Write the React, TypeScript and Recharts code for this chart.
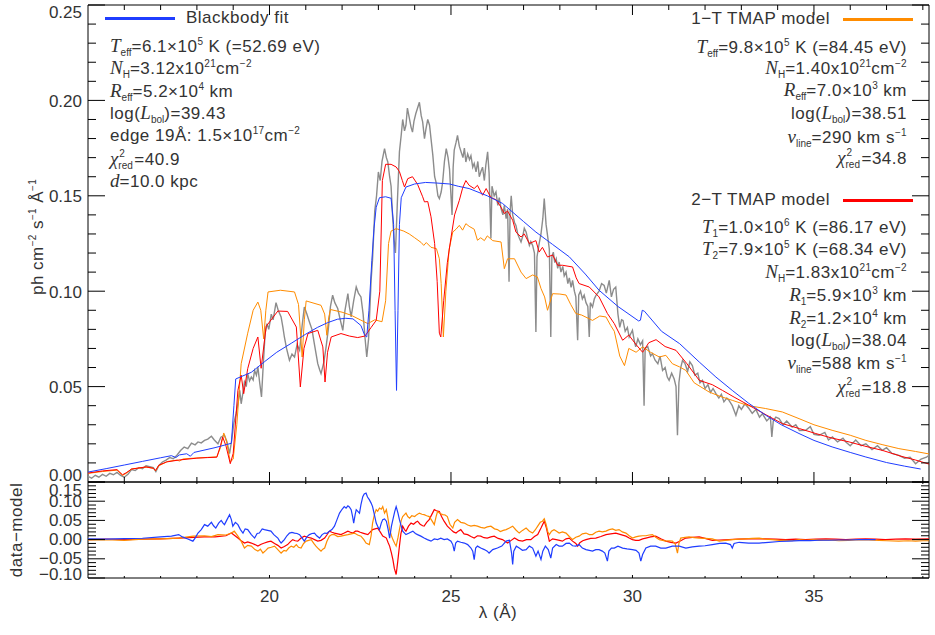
import React from 'react';
import { LineChart, Line, XAxis, YAxis, ReferenceArea } from 'recharts';

type Pt = [number, number];

// observed spectrum, ph cm^-2 s^-1 A^-1
const observed: Pt[] = [
  [15.0, 0.003], [15.1, 0.002], [15.2, 0.0035], [15.3, 0.0025], [15.4, 0.004], [15.5, 0.003], [15.6, 0.0045], [15.7, 0.0038],
  [15.8, 0.005], [15.9, 0.0035], [16.0, 0.0025], [16.1, 0.004], [16.2, 0.0065], [16.3, 0.006], [16.4, 0.0075], [16.5, 0.007],
  [16.6, 0.0085], [16.7, 0.008], [16.8, 0.0075], [16.87, 0.0055], [16.95, 0.0085], [17.05, 0.0105], [17.15, 0.0115], [17.25, 0.0128],
  [17.35, 0.0122], [17.45, 0.014], [17.55, 0.0165], [17.65, 0.0183], [17.75, 0.0175], [17.85, 0.0204], [17.95, 0.0195], [18.03, 0.021],
  [18.12, 0.0205], [18.21, 0.0218], [18.3, 0.0225], [18.4, 0.024], [18.48, 0.022], [18.58, 0.02], [18.66, 0.0235], [18.76, 0.0245],
  [18.83, 0.021], [18.9, 0.0149], [18.96, 0.022], [19.02, 0.031], [19.08, 0.0358], [19.14, 0.042], [19.18, 0.048], [19.22, 0.041],
  [19.27, 0.047], [19.31, 0.0524], [19.36, 0.05], [19.4, 0.0568], [19.45, 0.053], [19.5, 0.055], [19.55, 0.0535], [19.59, 0.0585],
  [19.64, 0.056], [19.68, 0.0603], [19.73, 0.052], [19.78, 0.0446], [19.83, 0.062], [19.88, 0.078], [19.93, 0.083], [19.98, 0.08],
  [20.05, 0.088], [20.1, 0.085], [20.18, 0.094], [20.24, 0.09], [20.32, 0.0865], [20.37, 0.081], [20.41, 0.076], [20.47, 0.07],
  [20.55, 0.0638], [20.62, 0.067], [20.69, 0.0655], [20.76, 0.072], [20.83, 0.069], [20.9, 0.082], [20.96, 0.0917], [21.03, 0.088],
  [21.1, 0.0839], [21.17, 0.08], [21.24, 0.072], [21.33, 0.062], [21.38, 0.059], [21.42, 0.0568], [21.5, 0.063], [21.56, 0.0708],
  [21.62, 0.08], [21.68, 0.092], [21.74, 0.0979], [21.8, 0.094], [21.88, 0.0909], [21.95, 0.085], [22.02, 0.0795], [22.08, 0.09],
  [22.16, 0.0987], [22.2, 0.092], [22.25, 0.0865], [22.32, 0.095], [22.39, 0.1022], [22.45, 0.099], [22.52, 0.097], [22.58, 0.088],
  [22.63, 0.076], [22.68, 0.0655], [22.73, 0.075], [22.8, 0.1057], [22.84, 0.117], [22.9, 0.142], [22.95, 0.15], [23.0, 0.1625],
  [23.05, 0.158], [23.1, 0.168], [23.17, 0.1747], [23.22, 0.17], [23.26, 0.1677], [23.31, 0.16], [23.35, 0.155], [23.39, 0.14],
  [23.43, 0.1276], [23.47, 0.12], [23.52, 0.145], [23.58, 0.173], [23.63, 0.182], [23.67, 0.19], [23.72, 0.184], [23.76, 0.187],
  [23.8, 0.196], [23.85, 0.191], [23.9, 0.186], [23.94, 0.1834], [23.98, 0.189], [24.03, 0.193], [24.08, 0.196], [24.13, 0.199],
  [24.18, 0.192], [24.22, 0.1887], [24.27, 0.18], [24.31, 0.185], [24.36, 0.19], [24.41, 0.187], [24.45, 0.18], [24.5, 0.1713],
  [24.55, 0.16], [24.59, 0.157], [24.64, 0.15], [24.68, 0.1485], [24.73, 0.152], [24.77, 0.157], [24.82, 0.168], [24.87, 0.1747],
  [24.92, 0.17], [24.96, 0.164], [25.0, 0.15], [25.03, 0.14], [25.06, 0.165], [25.09, 0.174], [25.14, 0.178], [25.18, 0.1817],
  [25.23, 0.176], [25.28, 0.173], [25.33, 0.17], [25.37, 0.175], [25.41, 0.1677], [25.46, 0.172], [25.51, 0.169], [25.55, 0.171],
  [25.6, 0.165], [25.64, 0.167], [25.69, 0.1625], [25.74, 0.168], [25.78, 0.16], [25.83, 0.163], [25.87, 0.165], [25.92, 0.158],
  [25.96, 0.166], [26.01, 0.173], [26.05, 0.162], [26.1, 0.1276], [26.13, 0.155], [26.19, 0.15], [26.24, 0.152], [26.29, 0.145],
  [26.33, 0.149], [26.38, 0.1433], [26.43, 0.14], [26.47, 0.145], [26.52, 0.138], [26.56, 0.143], [26.6, 0.105], [26.63, 0.142],
  [26.66, 0.15], [26.7, 0.14], [26.75, 0.136], [26.79, 0.1345], [26.84, 0.13], [26.88, 0.128], [26.93, 0.1258], [26.98, 0.129],
  [27.02, 0.133], [27.07, 0.131], [27.12, 0.127], [27.16, 0.124], [27.2, 0.126], [27.25, 0.124], [27.3, 0.12], [27.34, 0.0786],
  [27.37, 0.118], [27.43, 0.125], [27.48, 0.13], [27.53, 0.138], [27.57, 0.1485], [27.62, 0.135], [27.66, 0.1293], [27.71, 0.122],
  [27.75, 0.076], [27.78, 0.118], [27.82, 0.1205], [27.86, 0.115], [27.9, 0.117], [27.94, 0.112], [27.98, 0.1153], [28.03, 0.11],
  [28.08, 0.113], [28.12, 0.108], [28.17, 0.11], [28.22, 0.104], [28.26, 0.107], [28.31, 0.102], [28.35, 0.1057], [28.4, 0.1],
  [28.44, 0.097], [28.49, 0.0743], [28.52, 0.098], [28.57, 0.1], [28.62, 0.096], [28.67, 0.098], [28.72, 0.094], [28.77, 0.092],
  [28.81, 0.076], [28.84, 0.094], [28.9, 0.0917], [28.95, 0.096], [29.0, 0.098], [29.08, 0.1], [29.15, 0.104], [29.22, 0.103],
  [29.28, 0.099], [29.36, 0.1057], [29.42, 0.097], [29.48, 0.101], [29.54, 0.1022], [29.6, 0.088], [29.65, 0.081], [29.7, 0.085],
  [29.74, 0.0847], [29.8, 0.079], [29.86, 0.081], [29.91, 0.076], [30.0, 0.0795], [30.05, 0.074], [30.09, 0.0708], [30.15, 0.075],
  [30.22, 0.072], [30.28, 0.074], [30.32, 0.04], [30.35, 0.07], [30.42, 0.071], [30.5, 0.066], [30.55, 0.0673], [30.62, 0.064],
  [30.7, 0.062], [30.76, 0.066], [30.83, 0.0585], [30.9, 0.06], [30.96, 0.055], [31.01, 0.0533], [31.08, 0.057], [31.15, 0.054],
  [31.2, 0.05], [31.24, 0.0245], [31.28, 0.052], [31.33, 0.06], [31.38, 0.0638], [31.45, 0.062], [31.52, 0.058], [31.58, 0.063],
  [31.65, 0.061], [31.72, 0.056], [31.8, 0.057], [31.86, 0.052], [31.93, 0.0533], [32.0, 0.049], [32.08, 0.051], [32.15, 0.047],
  [32.22, 0.049], [32.3, 0.0463], [32.38, 0.044], [32.45, 0.046], [32.52, 0.042], [32.6, 0.044], [32.66, 0.0428], [32.75, 0.04],
  [32.85, 0.035], [32.93, 0.04], [33.0, 0.038], [33.1, 0.041], [33.21, 0.0385], [33.3, 0.036], [33.4, 0.038], [33.5, 0.034],
  [33.58, 0.0358], [33.7, 0.032], [33.8, 0.034], [33.84, 0.0236], [33.88, 0.032], [33.95, 0.034], [34.04, 0.0332], [34.15, 0.03],
  [34.25, 0.032], [34.4, 0.0288], [34.5, 0.03], [34.6, 0.027], [34.77, 0.0271], [34.9, 0.029], [35.0, 0.025], [35.14, 0.0245],
  [35.3, 0.026], [35.4, 0.022], [35.51, 0.0236], [35.65, 0.021], [35.8, 0.023], [35.88, 0.021], [36.0, 0.019], [36.15, 0.022],
  [36.3, 0.019], [36.43, 0.02], [36.6, 0.017], [36.75, 0.019], [36.88, 0.0166], [37.0, 0.018], [37.15, 0.015], [37.34, 0.014],
  [37.5, 0.0125], [37.65, 0.013], [37.8, 0.0096], [37.95, 0.012], [38.1, 0.013], [38.17, 0.014],
];

const blackbody: Pt[] = [
  [15.0, 0.0052], [15.5, 0.007], [16.0, 0.0089], [16.5, 0.0108], [17.0, 0.0127], [17.3, 0.0138], [17.42, 0.0128], [17.52, 0.0142],
  [17.72, 0.0148], [17.82, 0.0135], [17.92, 0.0155], [18.5, 0.018], [18.95, 0.0203], [19.02, 0.04], [19.07, 0.054], [19.5, 0.0575],
  [19.86, 0.063], [20.2, 0.068], [20.6, 0.0727], [21.0, 0.0775], [21.32, 0.081], [21.6, 0.0835], [21.87, 0.0853], [22.1, 0.0858],
  [22.3, 0.0855], [22.52, 0.082], [22.62, 0.077], [22.68, 0.076], [22.74, 0.09], [22.82, 0.116], [22.88, 0.133], [22.94, 0.144],
  [23.03, 0.149], [23.2, 0.1495], [23.35, 0.1487], [23.42, 0.135], [23.46, 0.09], [23.5, 0.048], [23.54, 0.09], [23.58, 0.135],
  [23.63, 0.149], [23.76, 0.1546], [24.0, 0.1562], [24.3, 0.157], [24.6, 0.1567], [24.96, 0.1562], [25.2, 0.155], [25.5, 0.1538],
  [26.0, 0.15], [26.42, 0.146], [27.0, 0.1365], [27.34, 0.131], [27.8, 0.1245], [28.26, 0.118], [28.7, 0.109], [29.08, 0.1005],
  [29.6, 0.092], [30.17, 0.0844], [30.22, 0.0848], [30.27, 0.09], [30.33, 0.0895], [30.8, 0.079], [31.3, 0.0725], [31.84, 0.0629],
  [32.3, 0.055], [32.75, 0.048], [33.2, 0.0413], [33.67, 0.035], [34.1, 0.03], [34.59, 0.0254], [35.0, 0.0218], [35.5, 0.0184],
  [36.0, 0.0155], [36.43, 0.0131], [37.0, 0.0102], [37.5, 0.0083], [37.94, 0.0068],
];

const tmap1T: Pt[] = [
  [15.0, 0.0045], [15.4, 0.0055], [15.8, 0.0062], [15.95, 0.0035], [16.05, 0.0045], [16.2, 0.0068], [16.6, 0.0078], [16.8, 0.0072],
  [16.86, 0.0058], [16.95, 0.0085], [17.2, 0.0108], [17.45, 0.0115], [17.52, 0.011], [17.62, 0.0121], [18.0, 0.0126], [18.3, 0.0129],
  [18.55, 0.0132], [18.65, 0.018], [18.74, 0.0257], [18.82, 0.021], [18.92, 0.0105], [19.0, 0.012], [19.1, 0.03], [19.22, 0.062],
  [19.4, 0.078], [19.55, 0.09], [19.68, 0.0943], [19.76, 0.09], [19.84, 0.075], [19.9, 0.09], [19.96, 0.0996], [20.3, 0.1005],
  [20.69, 0.0996], [20.8, 0.093], [20.9, 0.0655], [20.96, 0.085], [21.01, 0.0949], [21.42, 0.0926], [21.52, 0.088], [21.58, 0.0769],
  [21.63, 0.086], [21.68, 0.0904], [22.0, 0.089], [22.25, 0.0874], [22.5, 0.085], [22.71, 0.083], [22.9, 0.085], [23.1, 0.084],
  [23.2, 0.095], [23.28, 0.125], [23.35, 0.1315], [23.49, 0.1328], [23.7, 0.1315], [23.85, 0.13], [24.0, 0.128], [24.18, 0.1255],
  [24.25, 0.124], [24.32, 0.1255], [24.45, 0.123], [24.6, 0.1223], [24.68, 0.117], [24.73, 0.104], [24.79, 0.076], [24.86, 0.1],
  [24.95, 0.122], [25.05, 0.131], [25.14, 0.1325], [25.23, 0.1345], [25.32, 0.132], [25.41, 0.1354], [25.5, 0.134], [25.64, 0.1325],
  [25.73, 0.1267], [25.82, 0.128], [25.92, 0.1265], [26.0, 0.129], [26.15, 0.1265], [26.38, 0.1258], [26.47, 0.1118], [26.56, 0.117],
  [26.75, 0.117], [26.93, 0.11], [27.07, 0.1066], [27.25, 0.1085], [27.38, 0.1075], [27.48, 0.1014], [27.58, 0.097], [27.66, 0.09],
  [27.8, 0.0987], [28.0, 0.0985], [28.17, 0.098], [28.3, 0.093], [28.44, 0.0883], [28.6, 0.0875], [28.9, 0.0847], [29.1, 0.087],
  [29.27, 0.0865], [29.4, 0.082], [29.5, 0.079], [29.65, 0.066], [29.78, 0.061], [29.9, 0.07], [30.1, 0.068], [30.28, 0.0708],
  [30.5, 0.068], [30.74, 0.0655], [30.92, 0.0664], [31.1, 0.062], [31.3, 0.0603], [31.47, 0.0585], [31.7, 0.052], [32.11, 0.0472],
  [32.4, 0.045], [32.75, 0.0428], [33.2, 0.04], [33.67, 0.0385], [34.13, 0.0367], [34.59, 0.0332], [35.0, 0.03], [35.5, 0.0271],
  [36.0, 0.0245], [36.43, 0.0218], [36.9, 0.0195], [37.34, 0.0175], [37.8, 0.016], [38.17, 0.0147],
];

const tmap2T: Pt[] = [
  [15.0, 0.0047], [15.4, 0.0058], [15.8, 0.0065], [15.95, 0.0038], [16.05, 0.0048], [16.2, 0.0068], [16.6, 0.0079], [16.8, 0.0072],
  [16.86, 0.006], [16.95, 0.0088], [17.16, 0.0105], [17.5, 0.0115], [18.0, 0.0125], [18.3, 0.0128], [18.55, 0.013], [18.65, 0.019],
  [18.71, 0.0236], [18.8, 0.019], [18.92, 0.0096], [19.0, 0.015], [19.13, 0.048], [19.22, 0.056], [19.29, 0.0463], [19.4, 0.0594],
  [19.55, 0.07], [19.68, 0.076], [19.77, 0.0596], [19.91, 0.0816], [20.23, 0.0896], [20.5, 0.0894], [20.74, 0.0812], [20.85, 0.0498],
  [20.95, 0.07], [21.06, 0.0778], [21.33, 0.0795], [21.47, 0.0708], [21.53, 0.0524], [21.6, 0.068], [21.7, 0.076], [21.97, 0.0778],
  [22.2, 0.0765], [22.43, 0.0757], [22.63, 0.0765], [22.8, 0.081], [22.94, 0.0847], [23.04, 0.1], [23.11, 0.158], [23.2, 0.1665],
  [23.35, 0.1665], [23.49, 0.1651], [23.58, 0.1627], [23.66, 0.158], [23.72, 0.1546], [23.81, 0.159], [23.94, 0.16], [24.08, 0.156],
  [24.22, 0.1495], [24.27, 0.1468], [24.36, 0.147], [24.45, 0.139], [24.55, 0.125], [24.62, 0.105], [24.68, 0.078], [24.72, 0.076],
  [24.8, 0.095], [24.9, 0.115], [25.0, 0.128], [25.1, 0.14], [25.23, 0.1476], [25.32, 0.154], [25.41, 0.158], [25.5, 0.1555],
  [25.64, 0.1538], [25.73, 0.1555], [25.87, 0.1503], [25.97, 0.1538], [26.1, 0.149], [26.24, 0.148], [26.38, 0.144], [26.47, 0.1407],
  [26.56, 0.142], [26.7, 0.1372], [26.79, 0.131], [26.93, 0.1284], [27.02, 0.13], [27.16, 0.125], [27.34, 0.1265], [27.43, 0.1205],
  [27.52, 0.123], [27.66, 0.1179], [27.8, 0.119], [27.94, 0.1136], [28.07, 0.1136], [28.35, 0.1127], [28.45, 0.107], [28.53, 0.104],
  [28.81, 0.1022], [29.08, 0.097], [29.31, 0.0883], [29.5, 0.083], [29.73, 0.0743], [29.9, 0.077], [30.1, 0.072], [30.28, 0.068],
  [30.45, 0.073], [30.65, 0.0746], [30.9, 0.071], [31.2, 0.069], [31.5, 0.062], [31.84, 0.0533], [32.2, 0.051], [32.48, 0.048],
  [32.8, 0.0445], [33.21, 0.0402], [33.7, 0.035], [34.13, 0.0306], [34.6, 0.028], [35.05, 0.0254], [35.5, 0.023], [35.97, 0.021],
  [36.4, 0.0188], [36.88, 0.0166], [37.4, 0.0135], [37.8, 0.0115], [38.17, 0.0094],
];

// data - model
const residBlackbody: Pt[] = [
  [15.0, 0.0017], [15.5, 0.001], [16.0, 0.0026], [16.5, 0.0035], [17.0, 0.007], [17.3, 0.009], [17.5, 0.013], [17.6, 0.007],
  [17.75, 0.0017], [17.89, -0.004], [17.95, 0.004], [18.03, 0.017], [18.12, 0.026], [18.21, 0.039], [18.3, 0.035], [18.4, 0.045],
  [18.46, 0.036], [18.52, 0.03], [18.6, 0.043], [18.67, 0.05], [18.72, 0.043], [18.76, 0.039], [18.83, 0.052], [18.9, 0.065],
  [18.95, 0.052], [18.99, 0.035], [19.06, 0.045], [19.13, 0.039], [19.2, 0.026], [19.27, 0.017], [19.33, 0.028], [19.4, 0.026],
  [19.5, 0.013], [19.59, 0.004], [19.66, 0.016], [19.72, 0.017], [19.8, 0.028], [19.86, 0.026], [19.95, 0.024], [20.04, 0.022],
  [20.12, 0.013], [20.23, 0.004], [20.28, -0.004], [20.32, -0.009], [20.38, -0.003], [20.41, 0.0], [20.48, 0.01], [20.55, 0.017],
  [20.62, 0.019], [20.69, 0.017], [20.76, 0.016], [20.83, 0.013], [20.9, 0.004], [20.96, -0.004], [21.03, 0.007], [21.1, 0.013],
  [21.17, 0.016], [21.24, 0.017], [21.3, 0.01], [21.38, 0.004], [21.45, 0.013], [21.52, 0.017], [21.58, 0.016], [21.65, 0.022],
  [21.72, 0.026], [21.79, 0.035], [21.86, 0.052], [21.93, 0.069], [22.0, 0.079], [22.06, 0.086], [22.11, 0.082], [22.16, 0.088],
  [22.2, 0.085], [22.25, 0.078], [22.29, 0.06], [22.32, 0.043], [22.36, 0.065], [22.39, 0.078], [22.44, 0.073], [22.48, 0.069],
  [22.52, 0.091], [22.57, 0.112], [22.61, 0.119], [22.66, 0.121], [22.7, 0.111], [22.75, 0.104], [22.8, 0.095], [22.84, 0.086],
  [22.89, 0.065], [22.94, 0.043], [22.98, 0.035], [23.03, 0.026], [23.08, 0.043], [23.12, 0.052], [23.17, 0.054], [23.22, 0.048],
  [23.27, 0.026], [23.31, 0.004], [23.36, 0.035], [23.4, 0.052], [23.45, 0.073], [23.49, 0.086], [23.54, 0.069], [23.58, 0.052],
  [23.63, 0.035], [23.67, 0.022], [23.76, 0.013], [23.85, 0.017], [23.95, 0.022], [24.02, 0.016], [24.08, 0.013], [24.17, 0.009],
  [24.26, 0.004], [24.35, 0.0], [24.45, -0.004], [24.54, 0.0017], [24.63, 0.0], [24.72, 0.0035], [24.81, 0.0], [24.9, 0.0017],
  [25.0, -0.004], [25.05, -0.013], [25.09, -0.03], [25.13, -0.009], [25.18, -0.004], [25.27, -0.007], [25.37, -0.009], [25.46, -0.013],
  [25.55, -0.022], [25.6, -0.03], [25.64, -0.052], [25.68, -0.022], [25.73, -0.017], [25.82, -0.022], [25.92, -0.026], [26.0, -0.03],
  [26.05, -0.035], [26.15, -0.026], [26.28, -0.022], [26.4, -0.017], [26.52, -0.004], [26.61, -0.0017], [26.67, -0.035], [26.7, -0.065],
  [26.73, -0.03], [26.8, -0.017], [26.88, -0.022], [26.97, -0.028], [27.07, -0.026], [27.16, -0.017], [27.25, -0.022], [27.34, -0.043],
  [27.4, -0.03], [27.48, -0.052], [27.53, -0.03], [27.6, -0.017], [27.68, -0.026], [27.75, -0.048], [27.8, -0.022], [27.9, -0.013],
  [27.98, -0.017], [28.07, -0.017], [28.17, -0.01], [28.26, -0.009], [28.35, -0.016], [28.44, -0.017], [28.53, -0.013], [28.62, -0.022],
  [28.72, -0.026], [28.81, -0.028], [28.9, -0.03], [28.99, -0.026], [29.08, -0.026], [29.17, -0.03], [29.24, -0.035], [29.31, -0.056],
  [29.35, -0.03], [29.42, -0.022], [29.5, -0.022], [29.6, -0.017], [29.73, -0.022], [29.85, -0.024], [30.0, -0.026], [30.1, -0.028],
  [30.18, -0.035], [30.23, -0.056], [30.28, -0.039], [30.37, -0.022], [30.5, -0.017], [30.64, -0.017], [30.78, -0.022], [30.92, -0.022],
  [31.1, -0.017], [31.29, -0.017], [31.47, -0.022], [31.65, -0.019], [31.84, -0.017], [32.0, -0.016], [32.2, -0.013], [32.4, -0.01],
  [32.57, -0.009], [32.7, -0.013], [32.75, -0.022], [32.8, -0.01], [32.94, -0.007], [33.2, -0.009], [33.49, -0.009], [33.75, -0.007],
  [34.04, -0.005], [34.3, -0.004], [34.59, -0.0026], [34.9, -0.0026], [35.14, -0.0017], [35.4, -0.0017], [35.69, -0.001], [35.95, -0.001],
  [36.24, 0.0], [36.5, 0.0], [36.7, 0.0],
];

const resid1T: Pt[] = [
  [15.0, -0.001], [15.5, 0.0], [16.0, -0.002], [16.5, 0.001], [17.0, 0.002], [17.5, 0.004], [17.9, 0.009], [18.21, 0.01],
  [18.4, 0.008], [18.58, 0.013], [18.8, 0.012], [18.95, 0.017], [19.03, 0.022], [19.13, 0.009], [19.22, -0.004], [19.31, -0.022],
  [19.4, -0.015], [19.5, -0.017], [19.6, -0.026], [19.68, -0.03], [19.75, -0.025], [19.82, -0.035], [19.9, -0.028], [19.96, -0.022],
  [20.05, -0.02], [20.14, -0.017], [20.23, -0.026], [20.32, -0.035], [20.4, -0.028], [20.46, -0.03], [20.53, -0.022], [20.6, -0.017],
  [20.67, -0.02], [20.74, -0.013], [20.8, -0.02], [20.87, -0.022], [20.94, -0.01], [21.01, -0.004], [21.08, -0.002], [21.15, 0.0],
  [21.22, -0.01], [21.28, -0.017], [21.35, -0.024], [21.42, -0.03], [21.47, -0.025], [21.52, -0.022], [21.58, -0.005], [21.65, 0.009],
  [21.72, 0.013], [21.79, 0.013], [21.88, 0.008], [21.97, 0.009], [22.06, 0.011], [22.16, 0.013], [22.25, 0.015], [22.34, 0.017],
  [22.43, 0.012], [22.52, 0.009], [22.6, 0.0], [22.66, -0.009], [22.75, -0.013], [22.8, 0.01], [22.84, 0.043], [22.89, 0.065],
  [22.94, 0.078], [22.98, 0.074], [23.03, 0.082], [23.08, 0.079], [23.12, 0.086], [23.17, 0.069], [23.22, 0.078], [23.27, 0.052],
  [23.31, 0.026], [23.36, 0.01], [23.4, 0.0], [23.45, -0.01], [23.49, -0.017], [23.54, 0.005], [23.58, 0.026], [23.63, 0.05],
  [23.67, 0.06], [23.72, 0.065], [23.76, 0.069], [23.81, 0.06], [23.86, 0.056], [23.92, 0.062], [24.0, 0.06], [24.06, 0.065],
  [24.13, 0.069], [24.2, 0.066], [24.26, 0.065], [24.33, 0.062], [24.4, 0.06], [24.47, 0.05], [24.54, 0.039], [24.59, 0.06],
  [24.63, 0.073], [24.7, 0.068], [24.77, 0.065], [24.84, 0.064], [24.9, 0.06], [24.97, 0.04], [25.05, 0.03], [25.1, 0.045],
  [25.18, 0.052], [25.27, 0.045], [25.37, 0.043], [25.46, 0.038], [25.55, 0.035], [25.64, 0.037], [25.73, 0.035], [25.82, 0.032],
  [25.92, 0.03], [26.0, 0.033], [26.1, 0.035], [26.2, 0.028], [26.28, 0.026], [26.36, 0.021], [26.44, 0.024], [26.52, 0.026],
  [26.61, 0.03], [26.7, 0.035], [26.79, 0.025], [26.88, 0.017], [26.97, 0.024], [27.07, 0.03], [27.16, 0.022], [27.25, 0.017],
  [27.32, 0.025], [27.39, 0.035], [27.46, 0.045], [27.52, 0.048], [27.57, 0.054], [27.62, 0.04], [27.67, 0.02], [27.71, 0.013],
  [27.77, 0.022], [27.84, 0.026], [27.91, 0.022], [27.98, 0.017], [28.07, 0.02], [28.17, 0.017], [28.26, 0.008], [28.35, 0.0],
  [28.44, 0.006], [28.53, 0.009], [28.62, 0.015], [28.72, 0.017], [28.81, 0.013], [28.9, 0.013], [28.99, 0.019], [29.08, 0.022],
  [29.17, 0.02], [29.27, 0.022], [29.36, 0.026], [29.45, 0.028], [29.54, 0.024], [29.63, 0.026], [29.72, 0.02], [29.82, 0.017],
  [29.91, 0.01], [30.0, 0.004], [30.09, 0.007], [30.18, 0.009], [30.28, 0.01], [30.37, 0.01], [30.46, 0.012], [30.55, 0.013],
  [30.64, 0.006], [30.74, 0.0], [30.83, -0.002], [30.92, -0.004], [31.01, -0.003], [31.1, -0.004], [31.18, -0.012], [31.24, -0.035],
  [31.28, -0.01], [31.33, 0.004], [31.45, 0.006], [31.56, 0.007], [31.7, 0.005], [31.84, 0.004], [32.0, 0.003], [32.2, 0.002],
  [32.39, -0.004], [32.55, -0.002], [32.75, 0.0], [32.95, 0.001], [33.12, 0.002], [33.3, 0.003], [33.49, 0.004], [33.67, 0.001],
  [33.85, 0.0], [34.05, -0.002], [34.22, -0.002], [34.4, -0.003], [34.59, 0.0], [34.8, -0.002], [35.0, 0.0], [35.14, -0.002],
  [35.4, -0.001], [35.69, -0.003], [35.95, -0.002], [36.24, 0.0], [36.5, -0.001], [36.79, -0.002], [37.0, -0.003], [37.34, -0.004],
  [37.6, -0.003], [37.8, -0.004], [38.0, -0.003], [38.17, -0.003],
];

const resid2T: Pt[] = [
  [15.0, 0.0], [15.5, 0.001], [16.0, 0.0], [16.5, 0.001], [17.0, 0.002], [17.5, 0.004], [17.9, 0.006], [18.2, 0.007],
  [18.5, 0.007], [18.8, 0.01], [18.95, 0.017], [19.05, 0.01], [19.13, 0.004], [19.22, -0.003], [19.31, -0.009], [19.4, -0.006],
  [19.5, -0.009], [19.6, -0.013], [19.68, -0.017], [19.77, -0.012], [19.86, -0.009], [19.95, -0.006], [20.04, -0.004], [20.14, -0.01],
  [20.23, -0.015], [20.32, -0.022], [20.41, -0.018], [20.5, -0.013], [20.57, -0.006], [20.64, 0.0], [20.71, -0.003], [20.78, -0.004],
  [20.87, 0.004], [20.96, 0.009], [21.05, 0.006], [21.15, 0.004], [21.24, 0.0], [21.33, -0.004], [21.42, -0.002], [21.52, 0.004],
  [21.58, 0.012], [21.65, 0.022], [21.72, 0.019], [21.79, 0.017], [21.88, 0.015], [21.97, 0.013], [22.06, 0.017], [22.16, 0.022],
  [22.23, 0.019], [22.3, 0.017], [22.37, 0.022], [22.43, 0.022], [22.5, 0.019], [22.57, 0.017], [22.64, 0.015], [22.71, 0.013],
  [22.78, 0.02], [22.84, 0.026], [22.91, 0.028], [22.98, 0.03], [23.05, 0.02], [23.12, 0.009], [23.17, 0.007], [23.22, 0.004],
  [23.27, -0.008], [23.31, -0.017], [23.36, -0.035], [23.4, -0.052], [23.44, -0.075], [23.49, -0.091], [23.53, -0.06], [23.58, -0.017],
  [23.62, 0.015], [23.67, 0.035], [23.72, 0.026], [23.76, 0.022], [23.83, 0.035], [23.9, 0.043], [23.97, 0.04], [24.03, 0.045],
  [24.08, 0.048], [24.15, 0.04], [24.22, 0.036], [24.26, 0.035], [24.33, 0.045], [24.4, 0.052], [24.47, 0.065], [24.54, 0.078],
  [24.6, 0.075], [24.68, 0.073], [24.74, 0.06], [24.81, 0.048], [24.9, 0.035], [25.0, 0.026], [25.07, 0.02], [25.14, 0.017],
  [25.2, 0.022], [25.27, 0.026], [25.36, 0.015], [25.46, 0.013], [25.55, 0.008], [25.64, 0.004], [25.73, 0.01], [25.82, 0.009],
  [25.91, 0.005], [26.0, 0.004], [26.1, 0.007], [26.19, 0.009], [26.3, 0.003], [26.42, 0.0], [26.56, -0.009], [26.66, -0.002],
  [26.75, 0.004], [26.86, -0.002], [26.97, -0.004], [27.08, 0.0], [27.2, 0.0], [27.3, 0.008], [27.39, 0.013], [27.48, 0.03],
  [27.57, 0.048], [27.63, 0.03], [27.71, -0.004], [27.8, 0.002], [27.9, 0.0], [27.99, -0.002], [28.07, -0.004], [28.17, 0.002],
  [28.26, 0.004], [28.35, -0.004], [28.44, -0.01], [28.49, -0.017], [28.55, -0.008], [28.63, -0.003], [28.72, 0.0], [28.85, 0.003],
  [28.99, 0.004], [29.13, 0.008], [29.27, 0.013], [29.4, 0.015], [29.54, 0.017], [29.68, 0.013], [29.82, 0.009], [29.91, 0.004],
  [30.0, 0.0], [30.09, -0.002], [30.18, -0.002], [30.28, 0.002], [30.37, 0.004], [30.5, 0.007], [30.64, 0.009], [30.78, 0.002],
  [30.92, -0.004], [31.06, -0.007], [31.2, -0.009], [31.33, -0.003], [31.47, 0.004], [31.65, 0.006], [31.84, 0.007], [32.0, 0.003],
  [32.2, -0.002], [32.4, -0.001], [32.66, 0.0], [32.9, 0.001], [33.12, 0.002], [33.4, 0.002], [33.67, 0.002], [33.95, 0.001],
  [34.22, 0.0], [34.5, 0.001], [34.77, 0.0], [35.05, 0.001], [35.33, 0.002], [35.6, 0.001], [35.88, 0.0], [36.15, 0.001],
  [36.42, 0.002], [36.7, 0.001], [36.97, 0.0], [37.25, 0.001], [37.52, 0.002], [37.8, 0.001], [38.17, 0.002],
];

const xMajor = [20, 25, 30, 35];
const xLabels = ['20', '25', '30', '35'];
const xMinor = [16, 17, 18, 19, 21, 22, 23, 24, 26, 27, 28, 29, 31, 32, 33, 34, 36, 37, 38];

const fluxMajor = [0, 0.05, 0.1, 0.15, 0.2, 0.25];
const fluxLabels = ['0.00', '0.05', '0.10', '0.15', '0.20', '0.25'];
const fluxMinor = [
  0.01, 0.02, 0.03, 0.04, 0.06, 0.07, 0.08, 0.09, 0.11, 0.12, 0.13, 0.14,
  0.16, 0.17, 0.18, 0.19, 0.21, 0.22, 0.23, 0.24,
];

const residMajor = [-0.1, -0.05, 0, 0.05, 0.1, 0.15];
const residLabels = ['\u22120.10', '\u22120.05', '0.00', '0.05', '0.10', '0.15'];
const residMinor = [
  -0.09, -0.08, -0.07, -0.06, -0.04, -0.03, -0.02, -0.01, 0.01, 0.02, 0.03, 0.04,
  0.06, 0.07, 0.08, 0.09, 0.11, 0.12, 0.13, 0.14,
];

const X_DOMAIN: [number, number] = [15, 38.17];
const PLOT_W = 841;
const TOP_H = 477;
const BOT_H = 96;

const SANS = '"Liberation Sans", Arial, sans-serif';
const SERIF = '"Liberation Serif", "DejaVu Serif", serif';
const INK = '#333';

const BLUE = '#1f3dff';
const ORANGE = '#ff8c00';
const RED = '#ff0000';
const GREY = '#8c8c8c';

const rows = (pts: Pt[]) => pts.map(([x, y]) => ({ x, y }));

const isIn = (list: number[], v: number) => list.findIndex((m) => Math.abs(m - v) < 1e-6);

// IDL style: ticks point inward, mirrored on the opposite side
const makeYTick = (major: number[], labels: string[], shifts: number[]) => (props: any) => {
  const { x, y, payload } = props;
  const i = isIn(major, payload.value);
  const len = i >= 0 ? 17 : 8;
  return (
    <g>
      <line x1={x} x2={x + len} y1={y} y2={y} stroke="#000" />
      <line x1={x + PLOT_W} x2={x + PLOT_W - len} y1={y} y2={y} stroke="#000" />
      {i >= 0 && (
        <text x={x - 6} y={y + shifts[i]} textAnchor="end" dominantBaseline="central"
          fontFamily={SANS} fontSize={17} fill={INK}>
          {labels[i]}
        </text>
      )}
    </g>
  );
};

const makeXTick = (plotH: number, majLen: number, minLen: number, withLabels: boolean) => (props: any) => {
  const { x, y, payload } = props;
  const i = isIn(xMajor, payload.value);
  const len = i >= 0 ? majLen : minLen;
  return (
    <g>
      <line x1={x} x2={x} y1={y} y2={y - len} stroke="#000" />
      <line x1={x} x2={x} y1={y - plotH} y2={y - plotH + len} stroke="#000" />
      {withLabels && i >= 0 && (
        <text x={x} y={y + 18} textAnchor="middle" dominantBaseline="central"
          fontFamily={SANS} fontSize={17} fill={INK}>
          {xLabels[i]}
        </text>
      )}
    </g>
  );
};

const FluxTick = makeYTick(fluxMajor, fluxLabels, [-7, 1, 1, 1, 1, 7]);
const ResidTick = makeYTick(residMajor, residLabels, [-4, 0, 0, 0, 0, 8]);
const TopXTick = makeXTick(TOP_H, 10, 5, false);
const BotXTick = makeXTick(BOT_H, 3, 2, true);

const It = ({ c }: { c: string }) => (
  <span style={{ fontFamily: SERIF, fontStyle: 'italic', fontSize: 19, letterSpacing: 0 }}>{c}</span>
);
const Sb = ({ c }: { c: string }) => (
  <span style={{ fontSize: 10, position: 'relative', top: 4, letterSpacing: 0 }}>{c}</span>
);
const Sp = ({ c }: { c: string }) => (
  <span style={{ fontSize: 10, position: 'relative', top: -7, letterSpacing: 0.3 }}>{c}</span>
);
const Chi = () => (
  <>
    <It c="χ" />
    <span style={{ display: 'inline-block', position: 'relative', width: 16, height: 10, fontSize: 10, lineHeight: '10px', letterSpacing: 0 }}>
      <span style={{ position: 'absolute', left: 1, top: -6 }}>2</span>
      <span style={{ position: 'absolute', left: 0, top: 6 }}>red</span>
    </span>
  </>
);

const Row = ({ cy, left, right, children }: { cy: number; left?: number; right?: number; children: React.ReactNode }) => (
  <div
    style={{
      position: 'absolute', top: cy - 11, left, right, height: 22, lineHeight: '22px',
      whiteSpace: 'nowrap', fontFamily: SANS, fontSize: 17, color: INK, letterSpacing: 0.5,
      textAlign: right !== undefined ? 'right' : 'left',
    }}
  >
    {children}
  </div>
);

const Swatch = ({ left, cy, color }: { left: number; cy: number; color: string }) => (
  <div style={{ position: 'absolute', left, top: cy - 1.5, width: 70, height: 3.5, background: color }} />
);

const R = 28;

export default function App() {
  return (
    <div style={{ position: 'absolute', left: 0, top: 0, width: 935, height: 635, background: '#fff' }}>
      <div style={{ position: 'absolute', left: 0, top: 0 }}>
        <LineChart width={935} height={490} margin={{ top: 5, right: 6, bottom: 0, left: 0 }}>
          <XAxis type="number" dataKey="x" domain={X_DOMAIN} ticks={[...xMajor, ...xMinor]} interval={0}
            tickSize={0} tickMargin={0} axisLine={false} tickLine={false} height={8} tick={TopXTick} allowDataOverflow />
          <YAxis type="number" domain={[0, 0.25]} ticks={[...fluxMajor, ...fluxMinor]} interval={0}
            tickSize={0} tickMargin={0} axisLine={false} tickLine={false} width={88} tick={FluxTick} allowDataOverflow />
          <ReferenceArea x1={15} x2={38.17} y1={0} y2={0.25} fill="none" stroke="#000" strokeWidth={1} />
          <Line data={rows(observed)} dataKey="y" stroke={GREY} strokeWidth={1.4} dot={false} isAnimationActive={false} />
          <Line data={rows(tmap1T)} dataKey="y" stroke={ORANGE} strokeWidth={1} dot={false} isAnimationActive={false} />
          <Line data={rows(tmap2T)} dataKey="y" stroke={RED} strokeWidth={1} dot={false} isAnimationActive={false} />
          <Line data={rows(blackbody)} dataKey="y" stroke={BLUE} strokeWidth={1} dot={false} isAnimationActive={false} />
        </LineChart>
      </div>

      <div style={{ position: 'absolute', left: 0, top: 470 }}>
        <LineChart width={935} height={165} margin={{ top: 12, right: 6, bottom: 0, left: 0 }}>
          <XAxis type="number" dataKey="x" domain={X_DOMAIN} ticks={[...xMajor, ...xMinor]} interval={0}
            tickSize={0} tickMargin={0} axisLine={false} tickLine={false} height={57} tick={BotXTick} allowDataOverflow />
          <YAxis type="number" domain={[-0.1, 0.15]} ticks={[...residMajor, ...residMinor]} interval={0}
            tickSize={0} tickMargin={0} axisLine={false} tickLine={false} width={88} tick={ResidTick} allowDataOverflow />
          <ReferenceArea x1={15} x2={38.17} y1={-0.1} y2={0.15} fill="none" stroke="#000" strokeWidth={1} />
          <Line data={rows(resid2T)} dataKey="y" stroke={RED} strokeWidth={1.2} dot={false} isAnimationActive={false} />
          <Line data={rows(resid1T)} dataKey="y" stroke={ORANGE} strokeWidth={1.2} dot={false} isAnimationActive={false} />
          <Line data={rows(residBlackbody)} dataKey="y" stroke={BLUE} strokeWidth={1.2} dot={false} isAnimationActive={false} />
        </LineChart>
      </div>

      {/* axis titles */}
      <div style={{ position: 'absolute', left: 38, top: 237, transform: 'translate(-50%, -50%) rotate(-90deg)',
        whiteSpace: 'nowrap', fontFamily: SANS, fontSize: 17, color: INK, letterSpacing: 0.5 }}>
        ph cm<Sp c="−2" /> s<Sp c="−1" /> Å<Sp c="−1" />
      </div>
      <div style={{ position: 'absolute', left: 17, top: 530, transform: 'translate(-50%, -50%) rotate(-90deg)',
        whiteSpace: 'nowrap', fontFamily: SANS, fontSize: 17, color: INK, letterSpacing: 0.5 }}>
        data−model
      </div>
      <div style={{ position: 'absolute', left: 498, top: 613, transform: 'translate(-50%, -50%)',
        whiteSpace: 'nowrap', fontFamily: SANS, fontSize: 17, color: INK, letterSpacing: 0.5 }}>
        λ (Å)
      </div>

      {/* blackbody fit block */}
      <Swatch left={105} cy={18} color={BLUE} />
      <Row cy={18} left={186}>Blackbody fit</Row>
      <Row cy={46} left={110}><It c="T" /><Sb c="eff" />=6.1×10<Sp c="5" /> K (=52.69 eV)</Row>
      <Row cy={68} left={110}><It c="N" /><Sb c="H" />=3.12x10<Sp c="21" />cm<Sp c="−2" /></Row>
      <Row cy={90.5} left={110}><It c="R" /><Sb c="eff" />=5.2×10<Sp c="4" /> km</Row>
      <Row cy={113} left={110}>log(<It c="L" /><Sb c="bol" />)=39.43</Row>
      <Row cy={136} left={110}>edge 19Å: 1.5×10<Sp c="17" />cm<Sp c="−2" /></Row>
      <Row cy={158.5} left={110}><Chi />=40.9</Row>
      <Row cy={181} left={110}><It c="d" />=10.0 kpc</Row>

      {/* 1-T TMAP block */}
      <Swatch left={843} cy={19} color={ORANGE} />
      <Row cy={19} right={105}>1−T TMAP model</Row>
      <Row cy={47} right={R}><It c="T" /><Sb c="eff" />=9.8×10<Sp c="5" /> K (=84.45 eV)</Row>
      <Row cy={68} right={R}><It c="N" /><Sb c="H" />=1.40x10<Sp c="21" />cm<Sp c="−2" /></Row>
      <Row cy={90} right={R}><It c="R" /><Sb c="eff" />=7.0×10<Sp c="3" /> km</Row>
      <Row cy={113} right={R}>log(<It c="L" /><Sb c="bol" />)=38.51</Row>
      <Row cy={137} right={R}><It c="v" /><Sb c="line" />=290 km s<Sp c="−1" /></Row>
      <Row cy={158} right={R}><Chi />=34.8</Row>

      {/* 2-T TMAP block */}
      <Swatch left={843} cy={200} color={RED} />
      <Row cy={200} right={105}>2−T TMAP model</Row>
      <Row cy={227} right={R}><It c="T" /><Sb c="1" />=1.0×10<Sp c="6" /> K (=86.17 eV)</Row>
      <Row cy={249} right={R}><It c="T" /><Sb c="2" />=7.9×10<Sp c="5" /> K (=68.34 eV)</Row>
      <Row cy={272} right={R}><It c="N" /><Sb c="H" />=1.83x10<Sp c="21" />cm<Sp c="−2" /></Row>
      <Row cy={295} right={R}><It c="R" /><Sb c="1" />=5.9×10<Sp c="3" /> km</Row>
      <Row cy={318} right={R}><It c="R" /><Sb c="2" />=1.2×10<Sp c="4" /> km</Row>
      <Row cy={340} right={R}>log(<It c="L" /><Sb c="bol" />)=38.04</Row>
      <Row cy={363} right={R}><It c="v" /><Sb c="line" />=588 km s<Sp c="−1" /></Row>
      <Row cy={387} right={R}><Chi />=18.8</Row>
    </div>
  );
}
